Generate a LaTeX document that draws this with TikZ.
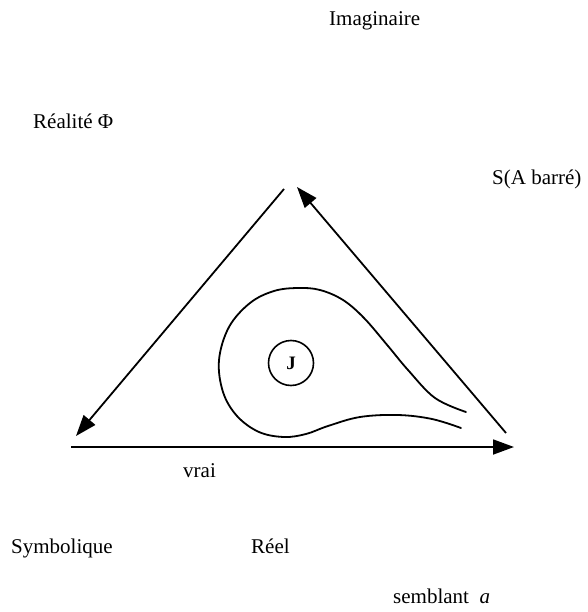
\documentclass[tikz,border=0pt]{standalone}
\usepackage{fontspec}
\setmainfont{Liberation Serif}
\usetikzlibrary{arrows.meta}
\tikzset{
  lbl/.style={anchor=base west, inner sep=0pt, font=\fontsize{21}{24}\selectfont},
  edge/.style={line width=1.8pt, -{Triangle[length=21pt,width=15pt]}},
  plain/.style={line width=1.8pt},
}
\begin{document}
\begin{tikzpicture}[x=1pt,y=-1pt]
\useasboundingbox (0,0) rectangle (587,612);
% labels
\node[lbl] (imag) at (329,26) {Imaginaire};
\node[lbl] (realite) at (33,129) {Réalité Φ};
\node[lbl] (sab) at (492,185) {S(A barré)};
\node[lbl] (vrai) at (183,477) {vrai};
\node[lbl] (symb) at (11,553) {Symbolique};
\node[lbl] (reel) at (251,553) {Réel};
\node[lbl] (sembl) at (393,603) {semblant \ \textit{a}};
% triangle end points
\coordinate (ltop) at (284,189);
\coordinate (lbot) at (76,436);
\coordinate (rbot) at (506,433);
\coordinate (rtop) at (297,187);
\coordinate (bl) at (71,447);
\coordinate (br) at (514,447);
\draw[edge] (ltop) -- (lbot);
\draw[edge] (rbot) -- (rtop);
\draw[edge] (bl) -- (br);
% teardrop curve
\draw[plain, line cap=round] plot[smooth, tension=0.6] coordinates {
 (466,412) (435,398) (408,370) (388,346) (364,318) (343,300) (320,290)
 (298,288) (274,291) (250,303) (229,327) (219,360) (223,392) (237,416)
 (259,432) (284,437) (306,434) (328,426) (360,417) (398,415) (432,419) (461,428)};
% J circle
\node[draw, circle, line width=1.6pt, minimum size=45pt, inner sep=0pt,
      font=\fontsize{19}{19}\selectfont\bfseries] (j) at (291,363) {J};
\end{tikzpicture}
\end{document}
